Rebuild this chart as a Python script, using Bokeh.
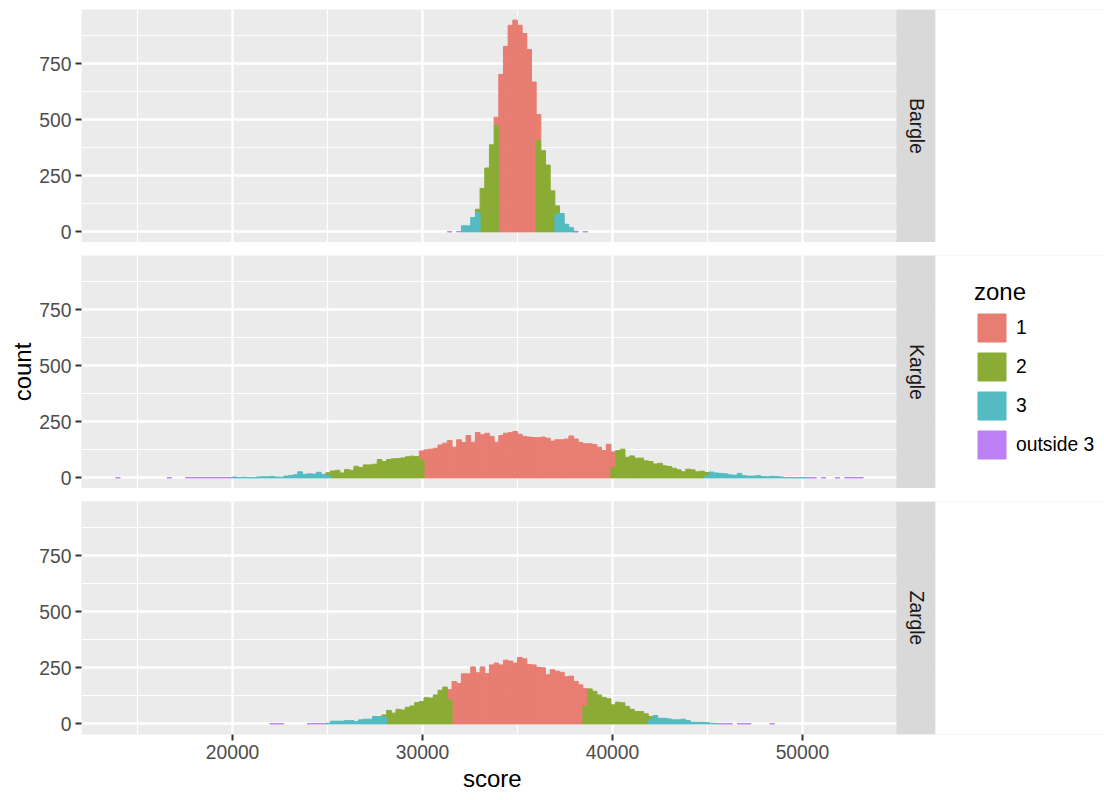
import math
from bokeh.plotting import figure
from bokeh.models import Range1d, FixedTicker, Legend, LegendItem, Title, ColumnDataSource
from bokeh.layouts import column
from bokeh.embed import file_html
from bokeh.resources import INLINE
from bokeh.core.properties import value

# ---------------- data ----------------
FACETS = ["Bargle", "Kargle", "Zargle"]
ZONES = ["1", "2", "3", "outside 3"]
ZONE_COLORS = ["#E87D72", "#8AAC35", "#53BBC1", "#BA80F4"]

BIN_WIDTH = 246          # score units per histogram bin
BIN_ORIGIN = 34015       # left edge of bin index 0

# counts per bin: {first bin index: [counts of consecutive bins]}
BARGLE_Z1 = {-1: [37, 702, 827, 921, 944, 921, 884, 813, 668, 116]}
BARGLE_Z2 = {-5: [15, 194, 285, 388, 474], 8: [407, 362, 298, 183, 37]}
BARGLE_Z3 = {-8: [27, 27, 64, 86], 12: [79, 82, 34, 19, 2]}
BARGLE_OUT = {-11: [1], -9: [2], 16: [1], 18: [1]}

KARGLE_Z1 = {-17: [40, 125, 128, 132, 147, 155, 167, 137, 170, 158, 189, 159, 202, 192,
                   199, 185, 159, 189, 199, 202, 207, 195, 185, 182, 180, 179, 182, 177,
                   164, 170, 170, 173, 187, 173, 158, 152, 152, 149, 137, 122, 150, 70]}
KARGLE_Z2 = {-37: [13, 31, 34, 22, 37, 34, 52, 46, 58, 58, 61, 82, 73, 82, 85, 86, 89,
                   94, 97, 95, 80],
             24: [46, 122, 128, 92, 98, 88, 88, 76, 73, 62, 65, 54, 51, 43, 36, 27, 39,
                  36, 27, 30, 16]}
KARGLE_Z3 = {-57: [4, 2, 3, 2, 1, 4, 5, 5, 6, 4, 3, 8, 11, 14, 27, 16, 18, 17, 25, 15, 10],
             44: [8, 26, 22, 20, 18, 14, 12, 20, 10, 8, 8, 10, 6, 5, 7, 6, 4, 1, 2, 1, 1, 1]}
KARGLE_OUT = {-82: [1], -71: [1], -67: [2, 2, 2, 2], -63: [2, 2, 2, 2, 2, 2],
              66: [1, 1], 69: [1], 72: [1], 74: [2, 2, 1, 2]}

ZARGLE_Z1 = {-11: [45, 189, 180, 223, 223, 254, 228, 254, 224, 263, 271, 263, 284, 280,
                   271, 296, 290, 265, 263, 252, 250, 219, 241, 235, 230, 210, 213, 189,
                   174, 77]}
ZARGLE_Z2 = {-25: [10, 60, 48, 65, 62, 74, 80, 95, 100, 117, 115, 129, 150, 164, 108],
             18: [80, 156, 145, 129, 118, 112, 85, 97, 94, 78, 65, 55, 55, 45, 15]}
ZARGLE_Z3 = {-37: [3, 12, 12, 12, 15, 15, 10, 18, 21, 21, 33, 33, 30],
             32: [18, 37, 25, 25, 22, 18, 18, 21, 15, 7, 7, 7, 6, 3, 2]}
ZARGLE_OUT = {-49: [1, 1, 1], -41: [1, 2, 2, 2], 47: [1, 1, 1], 51: [1, 1, 1], 58: [1]}

FACET_ZONE_RUNS = {
    "Bargle": [BARGLE_Z1, BARGLE_Z2, BARGLE_Z3, BARGLE_OUT],
    "Kargle": [KARGLE_Z1, KARGLE_Z2, KARGLE_Z3, KARGLE_OUT],
    "Zargle": [ZARGLE_Z1, ZARGLE_Z2, ZARGLE_Z3, ZARGLE_OUT],
}

X_LIMITS = (12050, 54950)
X_MAJOR = [20000, 30000, 40000, 50000]
X_MINOR = [15000, 25000, 35000, 45000]
Y_MAJOR = [0, 250, 500, 750]
Y_MINOR = [125, 375, 625, 875]

# ---------------- layout / style ----------------
FONT = "Liberation Sans"
W = 1104
FRAME_LEFT = 81
PANEL_W = 815
STRIP_W = 39
PANEL_H = 233
PANEL_TOPS = [9, 255, 501]
TOTAL_H = 800
PANEL_BG = "#EBEBEB"
STRIP_BG = "#D9D9D9"
SMALL_FS = "19.3px"
TITLE_FS = "24px"


def runs_to_bins(runs):
    out = {}
    for start, counts in runs.items():
        for i, c in enumerate(counts):
            out[start + i] = out.get(start + i, 0) + c
    return out


# stack: outside 3 at bottom, then 3, 2, 1 on top (ggplot order)
stacks = {}
max_total = 0
for facet in FACETS:
    zone_bins = [runs_to_bins(r) for r in FACET_ZONE_RUNS[facet]]
    acc = {}
    segs = [None] * len(ZONES)
    for zi in reversed(range(len(ZONES))):
        L, R, B, T = [], [], [], []
        for k in sorted(zone_bins[zi]):
            c = zone_bins[zi][k]
            b = acc.get(k, 0)
            left = BIN_ORIGIN + k * BIN_WIDTH
            L.append(left)
            R.append(left + BIN_WIDTH)
            B.append(b)
            T.append(b + c)
            acc[k] = b + c
        segs[zi] = dict(left=L, right=R, bottom=B, top=T)
    stacks[facet] = segs
    max_total = max(max_total, max(acc.values()))

Y_LO, Y_HI = -0.05 * max_total, 1.05 * max_total
X0, X1 = X_LIMITS
UPP = (X1 - X0) / PANEL_W                # score units per pixel
X_END = X0 + (W - FRAME_LEFT) * UPP      # frame spans to the right edge of the page
STRIP_R = X1 + STRIP_W * UPP

xticker = FixedTicker(ticks=X_MAJOR, minor_ticks=X_MINOR)
yticker = FixedTicker(ticks=Y_MAJOR, minor_ticks=Y_MINOR)

figs = []
prev_bottom = 0
for i, facet in enumerate(FACETS):
    last = i == len(FACETS) - 1
    top_border = PANEL_TOPS[i] - prev_bottom
    bottom_border = (TOTAL_H - PANEL_TOPS[i] - PANEL_H) if last else 0
    h = top_border + PANEL_H + bottom_border
    prev_bottom += h
    p = figure(width=W, height=h, x_range=Range1d(X0, X_END), y_range=Range1d(Y_LO, Y_HI),
               output_backend="svg", toolbar_location=None,
               x_axis_location="below" if last else None,
               min_border_left=FRAME_LEFT, min_border_right=0,
               min_border_top=top_border, min_border_bottom=bottom_border)
    p.background_fill_color = PANEL_BG
    p.border_fill_color = "white"
    p.outline_line_color = None

    for g, t in ((p.xgrid, xticker), (p.ygrid, yticker)):
        g.ticker = t
        g.grid_line_color = "white"
        g.grid_line_width = 2.3
        g.minor_grid_line_color = "white"
        g.minor_grid_line_width = 1.2

    axes = [p.yaxis] + ([p.xaxis] if last else [])
    for ax in axes:
        ax.axis_line_color = None
        ax.major_tick_in = 0
        ax.major_tick_out = 6
        ax.major_tick_line_color = "#333333"
        ax.major_tick_line_width = 2
        ax.minor_tick_line_color = None
        ax.major_label_text_font = FONT
        ax.major_label_text_font_size = SMALL_FS
        ax.major_label_text_color = "#4D4D4D"
        ax.major_label_standoff = 4
    p.yaxis.ticker = yticker
    if last:
        p.xaxis.ticker = xticker

    if i == 1:
        p.yaxis.axis_label = "count"
        p.yaxis.axis_label_text_font = FONT
        p.yaxis.axis_label_text_font_size = TITLE_FS
        p.yaxis.axis_label_text_font_style = "normal"
        p.yaxis.axis_label_text_color = "black"
        p.yaxis.axis_label_standoff = 0

    rends = []
    for zi, zone in enumerate(ZONES):
        src = ColumnDataSource(stacks[facet][zi])
        r = p.quad(left="left", right="right", bottom="bottom", top="top", source=src,
                   fill_color=ZONE_COLORS[zi], line_color=ZONE_COLORS[zi], line_width=1)
        rends.append(r)

    # facet strip and white area beyond it
    p.quad(left=[X1], right=[STRIP_R], bottom=[Y_LO], top=[Y_HI],
           fill_color=STRIP_BG, line_color=None)
    p.quad(left=[STRIP_R], right=[X_END], bottom=[Y_LO], top=[Y_HI],
           fill_color="white", line_color=None)
    p.text(x=[(X1 + STRIP_R) / 2], y=[(Y_LO + Y_HI) / 2], text=[facet], angle=-math.pi / 2,
           text_align="center", text_baseline="middle", text_font=value(FONT),
           text_font_size=value(SMALL_FS), text_color="#1A1A1A")

    if i == 1:
        legend = Legend(items=[LegendItem(label=z, renderers=[r]) for z, r in zip(ZONES, rends)],
                        location=(893, 26), title="zone",
                        title_text_font=FONT, title_text_font_size=TITLE_FS,
                        title_text_font_style="normal", title_text_color="black",
                        title_standoff=4,
                        label_text_font=FONT, label_text_font_size=SMALL_FS,
                        label_text_color="black",
                        glyph_width=35, glyph_height=35, spacing=4, label_standoff=7,
                        padding=0, margin=0, border_line_color=None,
                        background_fill_alpha=0)
        p.add_layout(legend)

    if last:
        # x title centred under the panels (not under the whole frame)
        title_w = 54
        centre_px = PANEL_W / 2
        p.add_layout(Title(text="score", align="left", offset=centre_px - title_w / 2 + 1,
                           text_font=FONT, text_font_size=TITLE_FS,
                           text_font_style="normal", text_color="black", standoff=2),
                     "below")
    figs.append(p)

layout = column(*figs, spacing=0)
open("out.html", "w").write(file_html(layout, INLINE))
